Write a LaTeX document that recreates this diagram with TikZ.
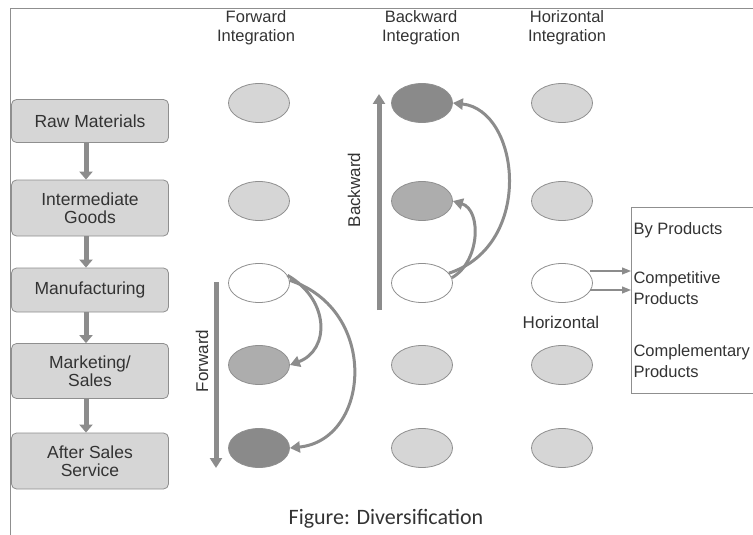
\documentclass[tikz,border=0pt]{standalone}
\usepackage{fontspec}
\setmainfont{Liberation Sans}
\newfontfamily\capfont{Carlito}
\usetikzlibrary{arrows.meta,shapes.geometric}
\definecolor{lightfill}{HTML}{D6D6D6}
\definecolor{midfill}{HTML}{ADADAD}
\definecolor{darkfill}{HTML}{8A8A8A}
\definecolor{edgegray}{HTML}{8F8F8F}
\definecolor{arrowgray}{HTML}{8C8C8C}
\definecolor{txtgray}{HTML}{333333}
\tikzset{
  stagebox/.style={draw=edgegray, fill=lightfill, rounded corners=5pt, minimum width=157pt, align=center, font=\fontsize{17.5}{18}\selectfont, text=txtgray, line width=0.8pt},
  oval/.style={ellipse, draw=edgegray, line width=0.8pt, minimum width=61pt, minimum height=39pt, inner sep=0pt},
  light/.style={oval, fill=lightfill},
  mid/.style={oval, fill=midfill},
  dark/.style={oval, fill=darkfill},
  blank/.style={oval, fill=white},
  hdr/.style={align=center, font=\fontsize{16.5}{19}\selectfont, text=txtgray},
  smallarrow/.style={draw=arrowgray, line width=5pt, -{Triangle[length=8pt,width=13pt]}},
  bigarrow/.style={draw=arrowgray, line width=5pt, -{Triangle[length=10pt,width=12pt]}},
  curvearrow/.style={draw=arrowgray, line width=3pt, -{Triangle[length=10pt,width=11pt]}},
  thinarrow/.style={draw=arrowgray, line width=1.2pt, -{Triangle[length=9pt,width=7pt]}},
  lbl/.style={font=\fontsize{17}{17}\selectfont, text=txtgray},
  listtext/.style={anchor=west, align=left, font=\fontsize{16.5}{21}\selectfont, text=txtgray}
}
\begin{document}
\begin{tikzpicture}[x=1pt,y=-1pt]
\useasboundingbox (0,0) rectangle (753,535);
% frame
\draw[edgegray, line width=0.8pt] (10,535) -- (10,8) -- (753,8);
% stage boxes
\node[stagebox, minimum height=43pt] (raw) at (90,121) {Raw Materials};
\node[stagebox, minimum height=56pt] (inter) at (90,208) {Intermediate\\Goods};
\node[stagebox, minimum height=44pt] (manu) at (90,290) {Manufacturing};
\node[stagebox, minimum height=55pt] (mkt) at (90,371) {Marketing/\\Sales};
\node[stagebox, minimum height=56pt] (after) at (90,461) {After Sales\\Service};
\draw[smallarrow] (raw.south -| 86,0) -- (inter.north -| 86,0);
\draw[smallarrow] (inter.south -| 86,0) -- (manu.north -| 86,0);
\draw[smallarrow] (manu.south -| 86,0) -- (mkt.north -| 86,0);
\draw[smallarrow] (mkt.south -| 86,0) -- (after.north -| 86,0);
% headers
\node[hdr] (hf) at (256,28) {Forward\\Integration};
\node[hdr] (hb) at (421,28) {Backward\\Integration};
\node[hdr] (hh) at (567,28) {Horizontal\\Integration};
% ellipses
\node[light] (f1) at (259,103) {};
\node[light] (f2) at (259,201) {};
\node[blank] (f3) at (259,283) {};
\node[mid]   (f4) at (259,365) {};
\node[dark]  (f5) at (259,448) {};
\node[dark]  (b1) at (422,103) {};
\node[mid]   (b2) at (422,201) {};
\node[blank] (b3) at (422,283) {};
\node[light] (b4) at (422,365) {};
\node[light] (b5) at (422,448) {};
\node[light] (h1) at (562,103) {};
\node[light] (h2) at (562,201) {};
\node[blank] (h3) at (562,283) {};
\node[light] (h4) at (562,365) {};
\node[light] (h5) at (562,448) {};
% backward
\coordinate (bs) at (379,310);
\coordinate (be) at (379,94);
\draw[bigarrow] (bs) -- (be);
\node[lbl, rotate=90] (blab) at (354,190) {Backward};
\draw[curvearrow] (b3.10) .. controls (480,262) and (482,210) .. (b2.east);
\draw[curvearrow] (b3.20) .. controls (535,245) and (520,110) .. (b1.east);
% forward
\coordinate (fs) at (216,282);
\coordinate (fe) at (216,468);
\draw[bigarrow] (fs) -- (fe);
\node[lbl, rotate=90] (flab) at (202,361) {Forward};
\draw[curvearrow] (f3.15) .. controls (330,300) and (330,350) .. (f4.east);
\draw[curvearrow] (f3.5) .. controls (380,310) and (370,440) .. (f5.east);
% horizontal
\node[draw=edgegray, line width=0.8pt, minimum width=140pt, minimum height=186pt, anchor=north west] (prod) at (631,207) {};
\node[listtext] (t1) at (630,230) {By Products};
\node[listtext] (t2) at (630,288) {Competitive\\Products};
\node[listtext] (t3) at (630,361) {Complementary\\Products};
\coordinate (ha1) at (590,271);
\coordinate (ha2) at (590,290);
\draw[thinarrow] (ha1) -- (ha1 -| prod.west);
\draw[thinarrow] (ha2) -- (ha2 -| prod.west);
\node[lbl] (hlab) at (561,322) {Horizontal};
% caption
\node[font=\capfont\fontsize{22}{22}\selectfont, text=txtgray] (cap) at (386,519) {Figure: Diversification};
\end{tikzpicture}
\end{document}
